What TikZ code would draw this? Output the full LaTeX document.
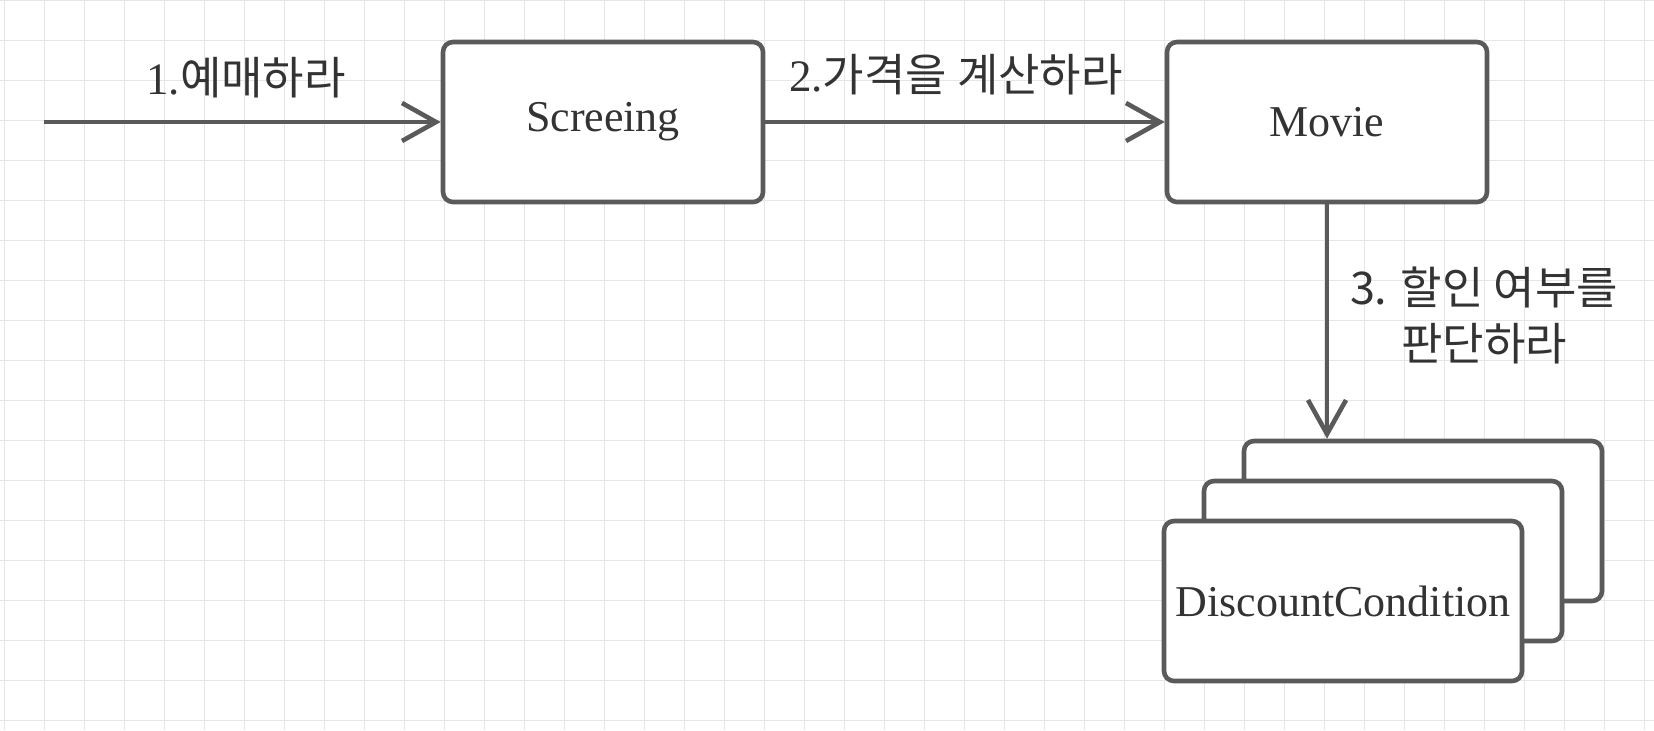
\documentclass[tikz,border=0pt]{standalone}
\usepackage{fontspec}
\setmainfont{Liberation Serif}
\newfontfamily\kr{Noto Sans CJK KR}
\usetikzlibrary{arrows.meta, positioning}
\definecolor{Edge}{HTML}{5A5A5A}
\definecolor{Ink} {HTML}{333333}
\definecolor{Grid}{HTML}{E6E6E6}
\tikzset{
  blk/.style={draw=Edge, fill=white, line width=2.3pt, rounded corners=5pt,
              minimum width=160pt, minimum height=80pt, inner sep=0pt,
              text=Ink, font=\fontsize{22}{26}\selectfont},
  lbl/.style={text=Ink, align=center, inner sep=0pt, font=\fontsize{22.5}{28}\selectfont},
  arr/.style={-{Straight Barb[length=17pt, width=19pt]}, line width=2.3pt, draw=Edge}
}

\begin{document}
\begin{tikzpicture}[x=0.5pt, y=-0.5pt]
  \useasboundingbox (0,0) rectangle (1654,730);
  % grid
  \foreach \gx in {4,44,...,1644} \draw[Grid, line width=0.5pt] (\gx,0) -- (\gx,730);
  \foreach \gy in {0,40,...,720} \draw[Grid, line width=0.5pt] (0,\gy) -- (1654,\gy);

  \node[blk] (scr) at (603,122) {Screeing};
  \node[blk] (mov) at (1327,122) {Movie};
  \node[blk, minimum width=179pt] (dc3) at (1423,521) {};
  \node[blk, minimum width=179pt] (dc2) at (1383,561) {};
  \node[blk, minimum width=179pt] (dc1) at (1343,601) {DiscountCondition};

  \coordinate (start) at (44,122);
  \draw[arr] (start) -- (scr);
  \draw[arr] (scr) -- (mov);
  \draw[arr] (mov) -- (mov |- dc3.north);

  \node[lbl] (l1) at (246,78) {1.{\kr 예매하라}};
  \node[lbl] (l2) at (956,75) {2.{\kr 가격을 계산하라}};
  \node[lbl, font=\kr\fontsize{22.5}{28}\selectfont] (l3) at (1484,315) {3. 할인 여부를\\판단하라};
\end{tikzpicture}
\end{document}
